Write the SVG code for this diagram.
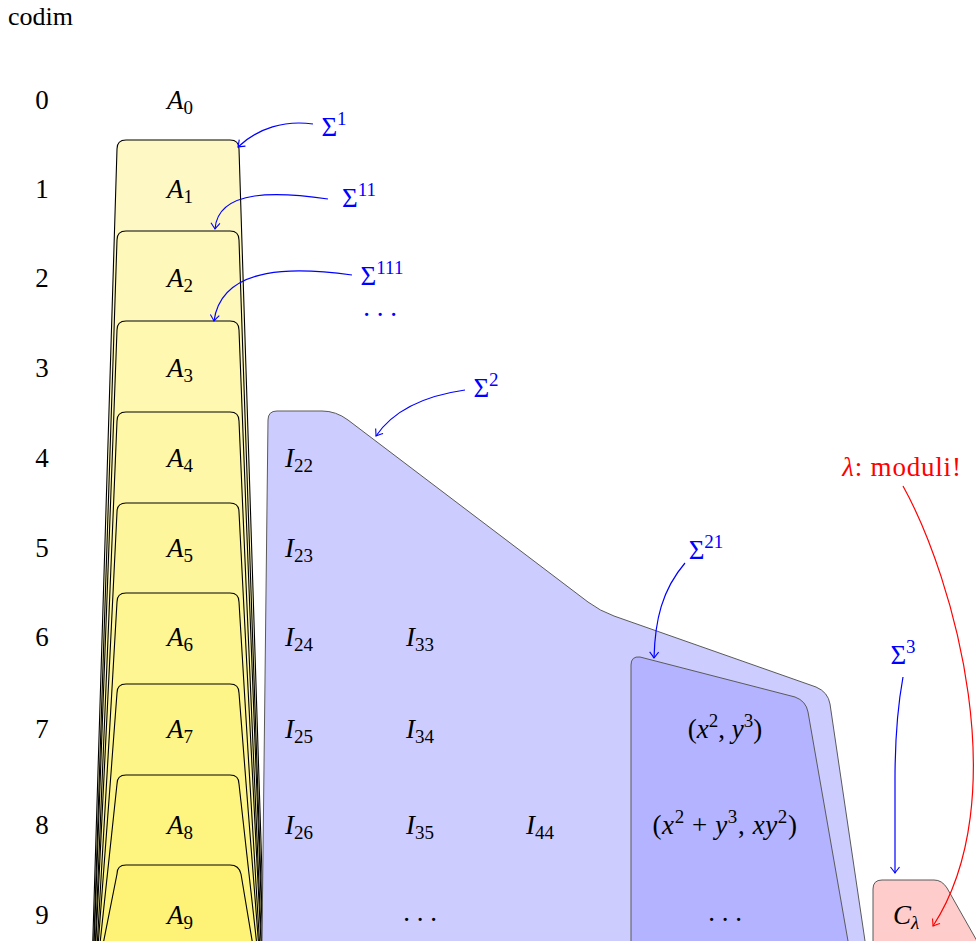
<svg xmlns="http://www.w3.org/2000/svg" width="976" height="945" viewBox="0 0 976 945">
<style>
text{font-family:"Liberation Serif","DejaVu Serif",serif;font-size:27px;fill:#000}
.it{font-style:italic}
.sb{font-size:19px}
.bl{fill:#0000ff}
.rd{fill:#ff0000}
.ya{stroke:#000;stroke-width:1.1}
.reg{stroke:#5a5a5a;stroke-width:1}
.arr{fill:none;stroke:#0000ff;stroke-width:1.2;marker-end:url(#ab)}
.arrR{fill:none;stroke:#ff0000;stroke-width:1.2;marker-end:url(#ar)}
</style>
<defs>
<clipPath id="clip"><rect x="0" y="0" width="976" height="941"/></clipPath>
<marker id="ab" viewBox="-8 -6 10 12" markerWidth="10" markerHeight="12" refX="0" refY="0" orient="auto" markerUnits="userSpaceOnUse">
<path d="M-6,-4.5 Q-1.5,-1 0,0 Q-1.5,1 -6,4.5" fill="none" stroke="#0000ff" stroke-width="1.1"/>
</marker>
<marker id="ar" viewBox="-8 -6 10 12" markerWidth="10" markerHeight="12" refX="0" refY="0" orient="auto" markerUnits="userSpaceOnUse">
<path d="M-6,-4.5 Q-1.5,-1 0,0 Q-1.5,1 -6,4.5" fill="none" stroke="#ff0000" stroke-width="1.1"/>
</marker>
</defs>
<rect width="976" height="945" fill="#fff"/>

<text x="8" y="25" style="font-size:26px">codim</text>

<g id="codim-labels">
<text x="42" y="109" text-anchor="middle">0</text>
<text x="42" y="198" text-anchor="middle">1</text>
<text x="42" y="287" text-anchor="middle">2</text>
<text x="42" y="377" text-anchor="middle">3</text>
<text x="42" y="467" text-anchor="middle">4</text>
<text x="42" y="557" text-anchor="middle">5</text>
<text x="42" y="646" text-anchor="middle">6</text>
<text x="42" y="738" text-anchor="middle">7</text>
<text x="42" y="834" text-anchor="middle">8</text>
<text x="42" y="924" text-anchor="middle">9</text>
</g>

<g id="yellow-strata" clip-path="url(#clip)">
<g id="S1"><path class="ya" fill="#fef9c4" d="M91,1000 L117,149 Q117,140 126,140 L230,140 Q239,140 239,149 L266,1000 Z"/></g>
<g id="S11"><path class="ya" fill="#fef8ba" d="M92,1000 L117,240 Q117,231 126,231 L230,231 Q239,231 239,240 L265,1000 Z"/></g>
<g id="S111"><path class="ya" fill="#fef8b0" d="M92,1000 L117,330 Q117,321 126,321 L230,321 Q239,321 239,330 L265,1000 Z"/></g>
<g id="S4"><path class="ya" fill="#fef7a7" d="M93,1000 L117,421 Q117,412 126,412 L230,412 Q239,412 239,421 L264,1000 Z"/></g>
<g id="S5"><path class="ya" fill="#fef69d" d="M93,1000 L117,512 Q117,503 126,503 L230,503 Q239,503 239,512 L264,1000 Z"/></g>
<g id="S6"><path class="ya" fill="#fef693" d="M94,1000 L117,602 Q117,593 126,593 L230,593 Q239,593 239,602 L263,1000 Z"/></g>
<g id="S7"><path class="ya" fill="#fef589" d="M94,1000 L117,693 Q117,684 126,684 L230,684 Q239,684 239,693 L263,1000 Z"/></g>
<g id="S8"><path class="ya" fill="#fef480" d="M94,1000 L117,784 Q117,775 126,775 L230,775 Q239,775 239,784 L263,1000 Z"/></g>
<g id="S9"><path class="ya" fill="#fef376" d="M92,1000 L117,874 Q117,865 126,865 L230,865 Q239,865 241,874 L262,1000 Z"/></g>
</g>

<g id="region-S2"><path class="reg" fill="#ccccff" d="M262,941 L268,420 Q268,411 277,411 L322,411 Q336,411 348,420 L588,602 Q600,611 614,616 L816,687 Q828,692 830,704 L865,941"/></g>
<g id="region-S21"><path class="reg" fill="#b3b3ff" d="M631,941 L631,665 Q631,656 640,657 L795,697 Q806,701 808,712 L848,941"/></g>
<g id="region-C"><path class="reg" fill="#ffcccc" d="M873,941 L873,889 Q873,880 882,880 L934,880 Q942,880 947,888 L977,941"/></g>

<g id="A-labels">
<g id="A0"><text x="180" y="109" text-anchor="middle"><tspan class="it">A</tspan><tspan class="sb" dy="5">0</tspan></text></g>
<g id="A1"><text x="180" y="198" text-anchor="middle"><tspan class="it">A</tspan><tspan class="sb" dy="5">1</tspan></text></g>
<g id="A2"><text x="180" y="287" text-anchor="middle"><tspan class="it">A</tspan><tspan class="sb" dy="5">2</tspan></text></g>
<g id="A3"><text x="180" y="377" text-anchor="middle"><tspan class="it">A</tspan><tspan class="sb" dy="5">3</tspan></text></g>
<g id="A4"><text x="180" y="467" text-anchor="middle"><tspan class="it">A</tspan><tspan class="sb" dy="5">4</tspan></text></g>
<g id="A5"><text x="180" y="557" text-anchor="middle"><tspan class="it">A</tspan><tspan class="sb" dy="5">5</tspan></text></g>
<g id="A6"><text x="180" y="646" text-anchor="middle"><tspan class="it">A</tspan><tspan class="sb" dy="5">6</tspan></text></g>
<g id="A7"><text x="180" y="738" text-anchor="middle"><tspan class="it">A</tspan><tspan class="sb" dy="5">7</tspan></text></g>
<g id="A8"><text x="180" y="834" text-anchor="middle"><tspan class="it">A</tspan><tspan class="sb" dy="5">8</tspan></text></g>
<g id="A9"><text x="180" y="924" text-anchor="middle"><tspan class="it">A</tspan><tspan class="sb" dy="5">9</tspan></text></g>
</g>

<g id="I-labels">
<g id="I22"><text x="299" y="467" text-anchor="middle"><tspan class="it">I</tspan><tspan class="sb" dy="5">22</tspan></text></g>
<g id="I23"><text x="299" y="557" text-anchor="middle"><tspan class="it">I</tspan><tspan class="sb" dy="5">23</tspan></text></g>
<g id="I24"><text x="299" y="646" text-anchor="middle"><tspan class="it">I</tspan><tspan class="sb" dy="5">24</tspan></text></g>
<g id="I25"><text x="299" y="738" text-anchor="middle"><tspan class="it">I</tspan><tspan class="sb" dy="5">25</tspan></text></g>
<g id="I26"><text x="299" y="834" text-anchor="middle"><tspan class="it">I</tspan><tspan class="sb" dy="5">26</tspan></text></g>
<g id="I33"><text x="420" y="646" text-anchor="middle"><tspan class="it">I</tspan><tspan class="sb" dy="5">33</tspan></text></g>
<g id="I34"><text x="420" y="738" text-anchor="middle"><tspan class="it">I</tspan><tspan class="sb" dy="5">34</tspan></text></g>
<g id="I35"><text x="420" y="834" text-anchor="middle"><tspan class="it">I</tspan><tspan class="sb" dy="5">35</tspan></text></g>
<g id="I3dots"><text x="420" y="921" text-anchor="middle">. . .</text></g>
<g id="I44"><text x="540" y="834" text-anchor="middle"><tspan class="it">I</tspan><tspan class="sb" dy="5">44</tspan></text></g>
<g id="E6"><text x="725" y="738" text-anchor="middle">(<tspan class="it">x</tspan><tspan class="sb" dy="-11">2</tspan><tspan dy="11">,  </tspan><tspan class="it">y</tspan><tspan class="sb" dy="-11">3</tspan><tspan dy="11">)</tspan></text></g>
<g id="E7"><text x="725" y="834" text-anchor="middle" letter-spacing="0.6">(<tspan class="it">x</tspan><tspan class="sb" dy="-11">2</tspan><tspan dy="11">  +  </tspan><tspan class="it">y</tspan><tspan class="sb" dy="-11">3</tspan><tspan dy="11">,  </tspan><tspan class="it">xy</tspan><tspan class="sb" dy="-11">2</tspan><tspan dy="11">)</tspan></text></g>
<g id="Edots"><text x="725" y="921" text-anchor="middle">. . .</text></g>
<g id="Clambda"><text x="906" y="924" text-anchor="middle"><tspan class="it">C</tspan><tspan class="sb it" dy="5">λ</tspan></text></g>
</g>

<g id="stratum-labels">
<g id="L-S1"><text class="bl" x="334" y="136" text-anchor="middle">Σ<tspan class="sb" dy="-11">1</tspan></text></g>
<g id="L-S11"><text class="bl" x="359" y="207" text-anchor="middle">Σ<tspan class="sb" dy="-11">11</tspan></text></g>
<g id="L-S111"><text class="bl" x="382" y="285" text-anchor="middle">Σ<tspan class="sb" dy="-11">111</tspan></text></g>
<g id="L-dots"><text class="bl" x="380" y="316" text-anchor="middle">. . .</text></g>
<g id="L-S2"><text class="bl" x="486" y="397" text-anchor="middle">Σ<tspan class="sb" dy="-11">2</tspan></text></g>
<g id="L-S21"><text class="bl" x="706" y="559" text-anchor="middle">Σ<tspan class="sb" dy="-11">21</tspan></text></g>
<g id="L-S3"><text class="bl" x="903" y="664" text-anchor="middle">Σ<tspan class="sb" dy="-11">3</tspan></text></g>
<g id="L-moduli"><text class="rd" x="902" y="476" text-anchor="middle" letter-spacing="0.8"><tspan class="it">λ</tspan>:  moduli!</text></g>
</g>

<g id="connectors">
<path class="arr" d="M313,124 C285,120 258,128 238,147"/>
<path class="arr" d="M328,199 C280,192 218,188 215,229"/>
<path class="arr" d="M352,275 C300,268 222,263 214,321"/>
<path class="arr" d="M465,390 C430,395 395,408 376,436"/>
<path class="arr" d="M685,563 C662,590 655,620 654,658"/>
<path class="arr" d="M903,677 C897,710 895,740 895,780 L895,873"/>
<path class="arrR" d="M903,486 C955,580 1015,800 933,926"/>
</g>
</svg>
